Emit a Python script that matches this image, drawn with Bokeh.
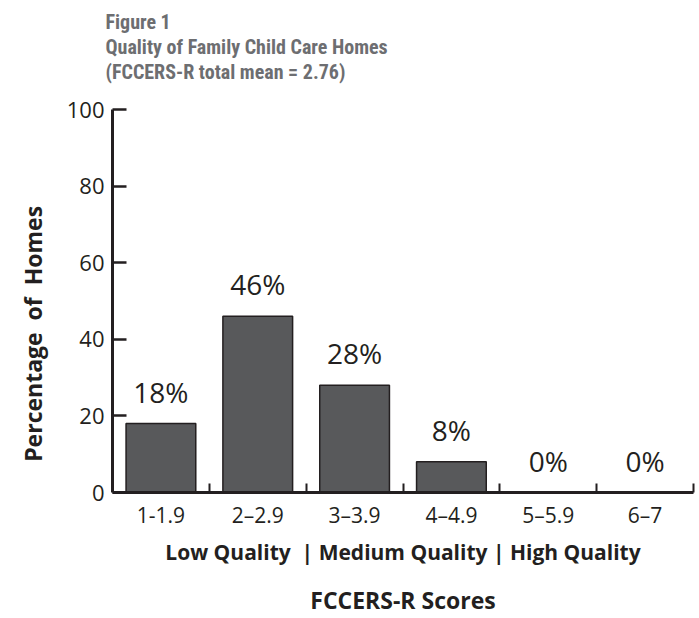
from bokeh.plotting import figure
from bokeh.models import ColumnDataSource, FixedTicker, Title, Range1d, LinearAxis
from bokeh.core.properties import value
from bokeh.embed import file_html
from bokeh.resources import INLINE

categories = ["1-1.9", "2\u20132.9", "3\u20133.9", "4\u20134.9", "5\u20135.9", "6\u20137"]
values = [18, 46, 28, 8, 0, 0]
value_labels = ["18%", "46%", "28%", "8%", "0%", "0%"]
y_ticks = [0, 20, 40, 60, 80, 100]
title_lines = ["Figure 1", "Quality of Family Child Care Homes", "(FCCERS-R total mean = 2.76)"]
quality_line = "Low Quality\u00a0\u00a0| Medium Quality | High Quality"
x_title = "FCCERS-R Scores"
y_title = "Percentage\u00a0\u00a0of\u00a0\u00a0Homes"

TITLE_FONT = "'Roboto Condensed', 'DejaVu Sans Condensed', 'Liberation Sans Narrow', 'Arial Narrow', sans-serif"

centers = [i + 0.5 for i in range(len(categories))]
src = ColumnDataSource(dict(x=centers, top=values, lab=value_labels))

p = figure(width=699, height=618, output_backend="svg", toolbar_location=None,
           x_range=Range1d(0, len(categories)), y_range=Range1d(0, 100),
           min_border_left=112, min_border_right=6, min_border_top=109, min_border_bottom=0)
p.background_fill_color = "white"
p.border_fill_color = "white"
p.outline_line_color = None
p.grid.visible = False

p.vbar(x="x", top="top", width=0.72, bottom=0, source=src,
       fill_color="#58595b", line_color="#231f20", line_width=1.5)
p.text(x="x", y="top", text="lab", source=src, text_align="center", text_baseline="alphabetic",
       y_offset=-32, text_font_size="28px", text_color="#231f20", text_font=value("Open Sans"))

# x axis
xa = p.xaxis[0]
xa.ticker = FixedTicker(ticks=centers, minor_ticks=list(range(1, len(categories) + 1)))
xa.major_label_overrides = {c: lab for c, lab in zip(centers, categories)}
xa.major_tick_line_color = None
xa.minor_tick_in = 9
xa.minor_tick_out = 0
xa.minor_tick_line_width = 2
xa.minor_tick_line_color = "#231f20"
xa.axis_line_width = 3
xa.axis_line_color = "#231f20"
xa.major_label_text_font = "Open Sans"
xa.major_label_text_font_size = "21px"
xa.major_label_text_color = "#231f20"
xa.major_label_standoff = 2
xa.axis_label = quality_line
xa.axis_label_text_font = "Open Sans"
xa.axis_label_text_font_style = "bold"
xa.axis_label_text_font_size = "21px"
xa.axis_label_text_color = "#231f20"
xa.axis_label_standoff = 6

# second, bare axis below that only carries the x title
xa2 = LinearAxis(ticker=FixedTicker(ticks=[], minor_ticks=[]), axis_line_color=None,
                 major_tick_line_color=None, minor_tick_line_color=None,
                 axis_label=x_title, axis_label_text_font="Open Sans",
                 axis_label_text_font_style="bold", axis_label_text_font_size="23px",
                 axis_label_text_color="#231f20", axis_label_standoff=15)
p.add_layout(xa2, "below")

# y axis
ya = p.yaxis[0]
ya.ticker = FixedTicker(ticks=y_ticks, minor_ticks=[])
ya.major_tick_in = 14
ya.major_tick_out = 0
ya.major_tick_line_width = 2.5
ya.major_tick_line_color = "#231f20"
ya.axis_line_width = 3
ya.axis_line_color = "#231f20"
ya.major_label_text_font = "Open Sans"
ya.major_label_text_font_size = "22px"
ya.major_label_text_color = "#231f20"
ya.major_label_standoff = 8
ya.axis_label = y_title + "\u00a0" * 11
ya.axis_label_text_font = "Open Sans"
ya.axis_label_text_font_style = "bold"
ya.axis_label_text_font_size = "23px"
ya.axis_label_text_color = "#231f20"
ya.axis_label_standoff = 15

# heading (three lines, with an empty line below to keep it clear of the plot)
t = Title(text="\n".join(title_lines) + "\n", align="left", offset=-7, vertical_align="bottom",
          text_font=TITLE_FONT, text_font_style="bold", text_font_size="20px",
          text_line_height=1.05, text_color="#6d6e71", standoff=0)
p.add_layout(t, "above")

open("out.html", "w").write(file_html(p, INLINE))
